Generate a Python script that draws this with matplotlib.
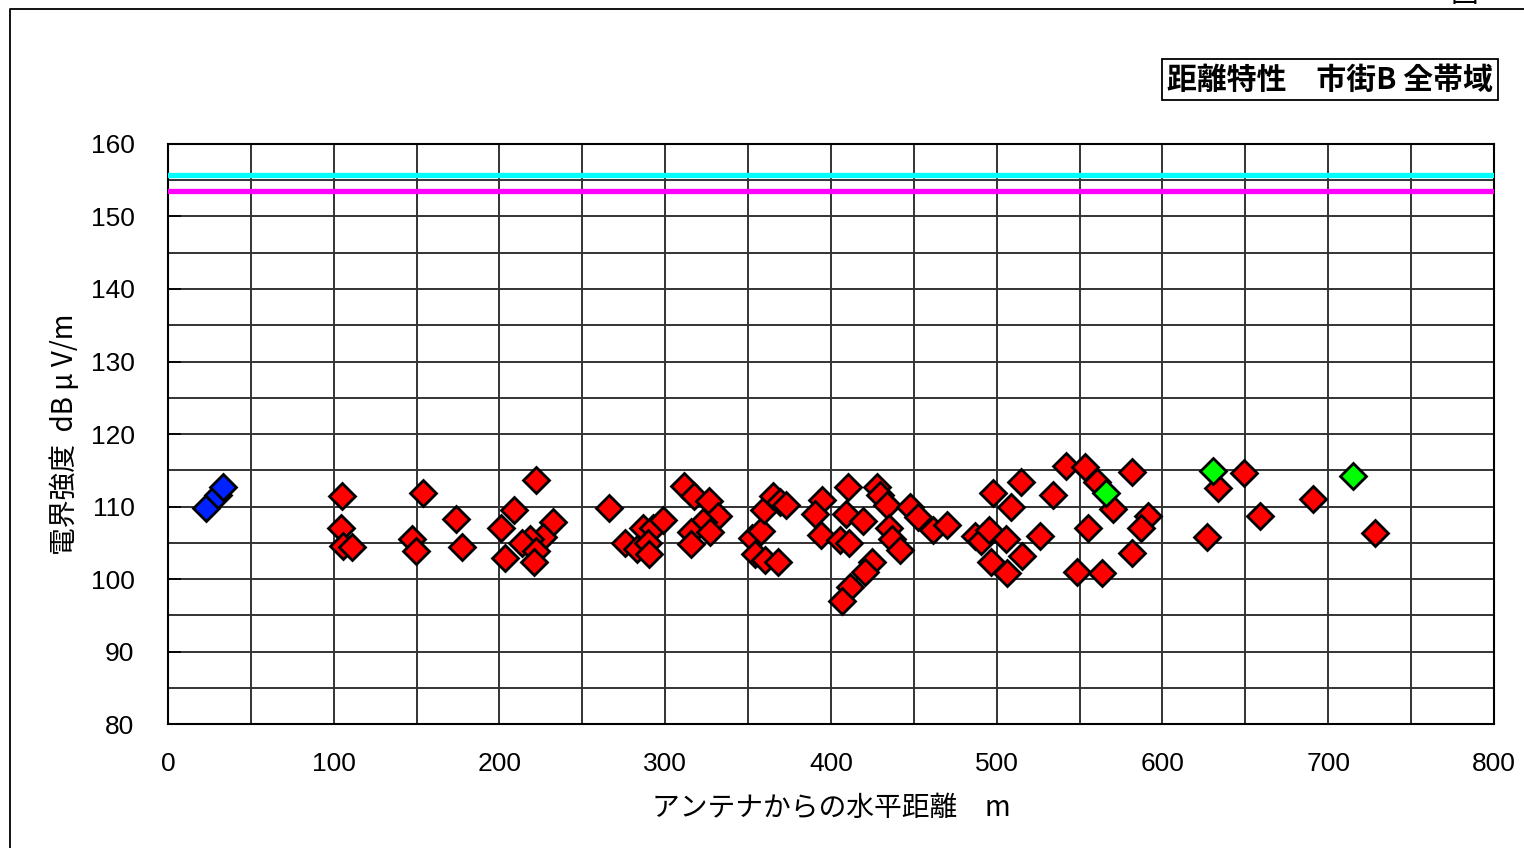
import numpy as np
import matplotlib
matplotlib.use("Agg")
import matplotlib.pyplot as plt
from matplotlib.lines import Line2D

plt.rcParams['font.family'] = ['Liberation Sans', 'Noto Sans CJK JP', 'DejaVu Sans']
jp = ['Noto Sans CJK JP', 'DejaVu Sans']

# 測定点 (距離 m, 電界強度 dBμV/m)
blue_x = [22.7, 30.4, 33.4]
blue_y = [109.8, 111.6, 112.7]

red_x = [105.0, 104.4, 105.4, 111.0, 147.0, 149.8, 153.8, 173.9, 177.4, 200.7,
         208.7, 203.3, 222.0, 232.5, 226.4, 218.4, 213.4, 221.8, 220.8,
         265.9, 275.7, 283.2, 286.8, 292.8, 298.8, 289.8, 290.2, 311.5, 317.2,
         326.2, 332.0, 323.0, 315.3, 327.0, 315.3,
         352.1, 357.8, 359.8, 364.8, 369.5, 372.8, 354.1, 360.3, 368.2, 394.4,
         390.3, 394.0, 410.0, 408.8, 419.5, 405.4, 411.0, 424.5, 420.5, 411.5,
         406.4, 427.9, 429.6, 433.9, 435.2, 436.6, 441.6, 447.7, 452.7, 461.7,
         470.3,
         486.9, 490.3, 495.3, 498.0, 496.4, 505.5, 508.6, 506.0, 514.9, 515.3,
         526.3, 534.0, 541.8, 553.2, 560.6, 570.3, 555.3, 548.2, 563.3, 581.6,
         591.1, 587.0, 581.6, 627.0, 633.7, 648.9, 658.8, 691.0, 728.2]
red_y = [111.4, 107.0, 104.5, 104.4, 105.5, 103.9, 111.8, 108.3, 104.4, 107.0,
         109.5, 102.9, 113.7, 107.8, 105.8, 105.5, 105.0, 103.9, 102.3,
         109.8, 104.9, 104.2, 107.1, 107.0, 108.2, 104.9, 103.4, 112.8, 111.4,
         110.7, 108.7, 107.9, 106.5, 106.5, 104.8,
         105.7, 106.6, 109.5, 111.4, 110.6, 110.2, 103.5, 102.6, 102.3, 110.9,
         109.0, 106.1, 112.7, 109.0, 108.0, 105.4, 105.0, 102.4, 100.9, 98.9,
         97.0, 112.7, 111.6, 110.2, 107.0, 105.5, 104.0, 110.0, 108.6, 106.8,
         107.5,
         106.0, 105.3, 106.8, 111.9, 102.4, 105.5, 110.0, 100.8, 113.4, 103.2,
         105.9, 111.6, 115.6, 115.4, 113.4, 109.7, 107.1, 101.0, 100.8, 114.7,
         108.7, 107.0, 103.6, 105.8, 112.6, 114.6, 108.7, 111.0, 106.3]

green_x = [565.7, 630.2, 715.1]
green_y = [111.8, 114.9, 114.2]

# 基準レベル
cyan_level = 155.7
magenta_level = 153.5

x_ticks = np.arange(0, 801, 100)
y_ticks = np.arange(80, 161, 10)

fig = plt.figure(figsize=(15.24, 8.48), dpi=100)
ax = fig.add_axes([0.1102, 0.1462, 0.8701, 0.6840])

ax.set_xlim(0, 800)
ax.set_ylim(80, 160)
ax.set_xticks(x_ticks)
ax.set_yticks(y_ticks)
ax.set_xticks(np.arange(0, 801, 50), minor=True)
ax.set_yticks(np.arange(80, 161, 5), minor=True)
ax.grid(which='both', color='#333333', lw=1.4)
ax.set_axisbelow(True)
ax.tick_params(axis='x', which='both', length=0, labelsize=19, pad=20)
ax.tick_params(axis='y', which='major', direction='in', length=9, width=1.2,
               labelsize=19, pad=24)
ax.tick_params(axis='y', which='minor', length=0)
for s in ax.spines.values():
    s.set_linewidth(1.5)
    s.set_color('black')

ax.axhline(cyan_level, color='#00FFFF', lw=3.8, zorder=3)
ax.axhline(magenta_level, color='#FF00FF', lw=3.8, zorder=3)

mk = dict(marker='D', linestyle='none', markersize=13, markeredgecolor='black',
          markeredgewidth=2, zorder=4, clip_on=False)
ax.plot(red_x, red_y, markerfacecolor='#FF0000', **mk)
ax.plot(blue_x, blue_y, markerfacecolor='#0022FF', **mk)
ax.plot(green_x, green_y, markerfacecolor='#00FF00', **mk)

ax.set_xlabel('アンテナからの水平距離　m', family=jp, fontsize=20, labelpad=12)
ax.set_ylabel('電界強度  dB μ V/m', family=jp, fontsize=20, labelpad=8)

fig.text(0.8727, 0.906, '距離特性　市街B 全帯域', family=jp, fontsize=21.5,
         fontweight='bold', ha='center', va='center',
         bbox=dict(boxstyle='square,pad=0.18', fc='white', ec='black', lw=1.3))

# 外枠
fig.add_artist(Line2D([0.00656, 0.00656, 1.0], [0.0, 0.9894, 0.9894],
                      transform=fig.transFigure, color='black', lw=1.3))
fig.text(0.9515, 0.9975, '図', family=jp, fontsize=20, va='baseline')

fig.savefig('out.png', dpi=100)
